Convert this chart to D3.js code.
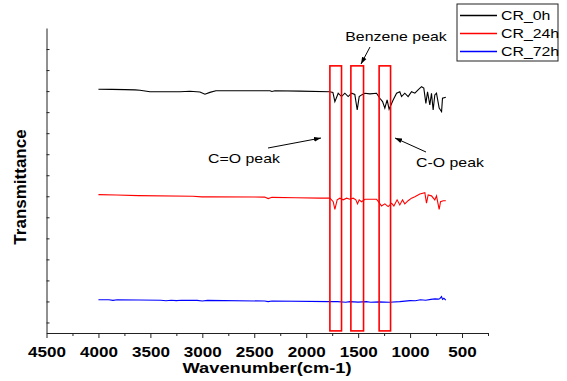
<!DOCTYPE html>
<html>
<head>
<meta charset="utf-8">
<script src="https://cdn.jsdelivr.net/npm/d3@7"></script>
<style>
  body { margin: 0; background: #fff; }
  svg { display: block; }
  text { font-family: Arial, "Liberation Sans", sans-serif; fill: #000; }
</style>
</head>
<body>
<div id="chart"></div>
<script>
// FTIR spectra, [wavenumber, transmittance (arb. units, offset)]
const cr0h = [
  [4000, 110.9], [3870, 110.8], [3745, 110.7], [3648, 110.6], [3600, 110.4], [3504, 109.7],
  [3215, 109.7], [3119, 109.9], [3023, 109.6], [2975, 108.5], [2927, 109.4], [2869, 110.2],
  [2349, 110.2], [2330, 109.8], [2301, 110.2], [2061, 110.0], [1772, 109.7], [1743, 109.4],
  [1724, 105.0], [1692, 109.0], [1660, 107.4], [1628, 109.0], [1596, 107.4], [1563, 109.0],
  [1532, 108.4], [1509, 101.0], [1490, 107.4], [1467, 108.2], [1435, 109.0], [1387, 108.7],
  [1323, 109.0], [1291, 106.6], [1265, 105.0], [1243, 101.9], [1221, 105.8], [1202, 101.4],
  [1163, 105.8], [1130, 109.0], [1099, 109.7], [1082, 107.4], [1051, 109.0], [1019, 107.4],
  [986, 109.7], [954, 109.0], [923, 110.6], [890, 112.1], [868, 111.4], [848, 104.2],
  [832, 109.7], [810, 103.4], [794, 109.0], [778, 101.0], [762, 108.2], [746, 109.0],
  [720, 101.9], [697, 100.2], [688, 106.6], [656, 107.1]
];
const cr24h = [
  [4000, 60.8], [3825, 60.6], [3617, 60.3], [3090, 60.0], [3007, 59.7], [2927, 59.8],
  [2400, 59.6], [2366, 58.9], [2330, 59.5], [2100, 59.3], [1868, 59.1], [1772, 59.1],
  [1740, 57.4], [1724, 53.8], [1702, 58.3], [1676, 59.1], [1644, 58.3], [1611, 59.1],
  [1580, 58.6], [1548, 59.1], [1522, 58.3], [1506, 56.4], [1490, 58.3], [1467, 57.4],
  [1435, 58.6], [1387, 58.6], [1323, 58.6], [1298, 57.0], [1275, 55.4], [1243, 56.4],
  [1211, 55.1], [1178, 56.7], [1156, 55.4], [1125, 58.3], [1099, 55.9], [1073, 58.3],
  [1051, 56.4], [1019, 57.9], [986, 59.1], [954, 59.8], [906, 61.1], [858, 61.7],
  [842, 56.7], [826, 60.6], [794, 60.2], [762, 58.3], [746, 60.2], [720, 53.8],
  [707, 57.4], [682, 57.9], [656, 57.9]
];
const cr72h = [
  [4000, 10.8], [3900, 10.8], [3860, 10.5], [3820, 10.8], [3400, 10.6], [3350, 10.3],
  [3300, 10.6], [3250, 10.4], [3200, 10.6], [3050, 10.5], [3000, 10.2], [2950, 10.5],
  [2400, 10.2], [2366, 9.9], [2330, 10.2], [1772, 9.9], [1700, 9.9], [1620, 9.6],
  [1580, 9.9], [1500, 9.7], [1420, 9.9], [1380, 9.6], [1300, 9.8], [1200, 9.6],
  [1100, 9.9], [1000, 10.4], [950, 10.3], [900, 10.8], [850, 10.6], [800, 11.0],
  [760, 11.2], [730, 11.1], [715, 11.3], [697, 12.3], [688, 11.0], [675, 11.5], [656, 10.6]
];

const seriesNames = ["CR_0h", "CR_24h", "CR_72h"];
const seriesColors = ["#000000", "#ff0000", "#0000ff"];
const seriesData = [cr0h, cr24h, cr72h];

const xMajorTicks = [4500, 4000, 3500, 3000, 2500, 2000, 1500, 1000, 500];
const xMinorTicks = [4250, 3750, 3250, 2750, 2250, 1750, 1250, 750, 250];
const yTicks = [0, 10, 20, 30, 40, 50, 60, 70, 80, 90, 100, 110, 120, 130];

// highlighted bands [from, to] in cm-1
const peakBands = [[1772, 1660], [1570, 1448], [1298, 1188]];
const bandTop = 122, bandBottom = -4;

const width = 567, height = 381;
const sx = 1.22; // the source picture is stretched horizontally

const svg = d3.select("#chart").append("svg")
  .attr("width", width)
  .attr("height", height);

const x = d3.scaleLinear().domain([4500, 250]).range([46.5, 488]);
const y = d3.scaleLinear().domain([-5, 140]).range([333, 28]);

// axes
const xAxis = svg.append("g")
  .attr("transform", "translate(0,333)")
  .call(d3.axisBottom(x).tickValues(xMajorTicks).tickSize(5).tickSizeOuter(0)
    .tickFormat(d3.format("d")));
xAxis.selectAll("text")
  .attr("y", 23.7).attr("dy", 0)
  .attr("transform", "scale(" + sx + ",1)")
  .style("font-size", "14px").style("font-weight", "bold")
  .style("font-family", "Arial, 'Liberation Sans', sans-serif");

svg.append("g")
  .attr("transform", "translate(0,333)")
  .call(d3.axisBottom(x).tickValues(xMinorTicks).tickSize(3).tickSizeOuter(0).tickFormat(""));

svg.append("g")
  .attr("transform", "translate(46.5,0)")
  .call(d3.axisLeft(y).tickValues(yTicks).tickSize(-3).tickSizeOuter(0).tickFormat(""));

svg.selectAll(".domain, .tick line").attr("stroke", "#222");

// spectra
const line = d3.line().x(d => x(d[0])).y(d => y(d[1]));
svg.selectAll(".spec")
  .data(seriesData)
  .enter().append("path")
  .attr("class", "spec")
  .attr("d", line)
  .attr("fill", "none")
  .attr("stroke", (d, i) => seriesColors[i])
  .attr("stroke-width", 1.1);

// peak boxes
svg.selectAll(".band")
  .data(peakBands)
  .enter().append("rect")
  .attr("class", "band")
  .attr("x", d => x(d[0]))
  .attr("width", d => x(d[1]) - x(d[0]))
  .attr("y", y(bandTop))
  .attr("height", y(bandBottom) - y(bandTop))
  .attr("fill", "none")
  .attr("stroke", "#ff0000")
  .attr("stroke-width", 1.6);

// labels
function label(px, py, str, size, weight, anchor) {
  return svg.append("text")
    .attr("transform", "translate(" + px + "," + py + ") scale(" + sx + ",1)")
    .attr("text-anchor", anchor || "start")
    .style("font-size", size + "px")
    .style("font-weight", weight || "normal")
    .text(str);
}

label(267, 373, "Wavenumber(cm-1)", 15, "bold", "middle");

svg.append("text")
  .attr("transform", "translate(26,187) rotate(-90)")
  .attr("text-anchor", "middle")
  .style("font-size", "17px")
  .style("font-weight", "bold")
  .text("Transmittance");

// annotations
svg.append("defs").append("marker")
  .attr("id", "arrow")
  .attr("viewBox", "0 0 10 10")
  .attr("refX", 10).attr("refY", 5)
  .attr("markerWidth", 7).attr("markerHeight", 7)
  .attr("orient", "auto")
  .append("path").attr("d", "M0,1.5L10,5L0,8.5Z").attr("fill", "#000");

function arrow(x1, y1, x2, y2) {
  svg.append("line")
    .attr("x1", x1).attr("y1", y1).attr("x2", x2).attr("y2", y2)
    .attr("stroke", "#000").attr("stroke-width", 1)
    .attr("marker-end", "url(#arrow)");
}

label(396, 41, "Benzene peak", 13, "normal", "middle");
arrow(370, 47, 361, 64);
label(244, 163, "C=O peak", 13, "normal", "middle");
arrow(268, 148, 321, 138);
label(450, 167, "C-O peak", 13, "normal", "middle");
arrow(426, 152, 395, 138);

// legend
const legend = svg.append("g").attr("transform", "translate(457,4)");
legend.append("rect")
  .attr("width", 101).attr("height", 57)
  .attr("fill", "#fff").attr("stroke", "#222").attr("stroke-width", 1);
seriesNames.forEach(function (name, i) {
  const ry = 11.5 + i * 18;
  legend.append("line")
    .attr("x1", 3).attr("x2", 40)
    .attr("y1", ry).attr("y2", ry)
    .style("stroke", seriesColors[i])
    .style("stroke-width", 1.3);
  legend.append("text")
    .attr("transform", "translate(44," + (ry + 4.7) + ") scale(" + sx + ",1)")
    .style("font-size", "13px")
    .text(name);
});
</script>
</body>
</html>
